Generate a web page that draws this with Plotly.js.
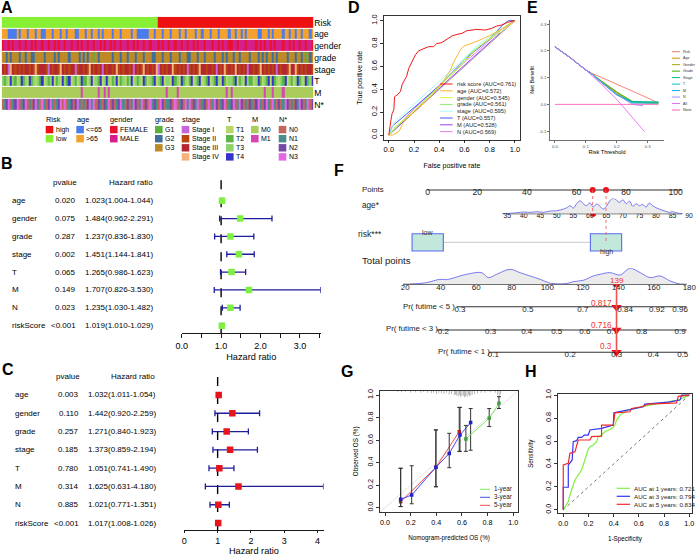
<!DOCTYPE html>
<html><head><meta charset="utf-8">
<script src="https://cdn.plot.ly/plotly-3.0.1.min.js"></script>
<style>html,body{margin:0;padding:0;background:#fff}#chart{width:698px;height:556px}</style>
</head><body><div id="chart"></div>
<script>
// ================= DATA =================
// Panel A: heatmap rows (one char per sample = index into the row's levels)
const heatRowNames = ['Risk','age','gender','grade','stage','T','M','N*'];
const riskRow   = '1111111111 1111111111 1111111111 1111111111 1111111111 1111111111 1111111111 1111100000 0000000000 0000000000 0000000000 0000000000 0000000000 0000000000 0000000000';
const ageRow    = '1110000101 1101110110 0111011101 1011100111 0110110101 1110111011 1101100000 0110111011 1011101101 1110110111 0111011110 1101101011 1110011101 0111101101 1011011101';
const genderRow = '0110101101 1011010110 1101101011 0110110101 1011011010 1101011011 0110101101 1011101011 0110110110 1101011011 1011010110 0110111011 1101010110 1011101101 0110110110';
const gradeRow  = '2212122212 2122112222 1222212122 2212222121 2122021222 2221222122 1222122212 2211222122 2122212221 1222122122 2212221212 2122122221 2221212122 1212222122 2122120212';
const stageRow  = '2120321212 1221213122 2102122132 1212201221 2132121202 1221231212 2120212132 1212302121 2231212120 1212132212 2120212312 1232121202 2121321212 1202122132 2312121221';
const tRow      = '2120321023 1203120213 0212301203 2130210231 1023021302 3201230120 1230212031 0213021302 2031203120 1302130213 0213203102 2130120321 1023102130 3120213021 0231203123';
const mRow      = '0000000000 0000000000 0000000000 0000000010 0000001001 0100000000 0000000000 0000000001 0000100000 0000000000 0000000010 1000000000 0000001000 1000010000 0000000000';
const nRow      = '0123012301 2301023103 1023101230 3012023101 0231302102 1302012310 2013201302 0312103201 1203012031 3021301203 0132012301 2301320102 1023102310 3102013201 0213201302';

const riskLevels=['high','low'];            const riskColors=['#EE1111','#88F034'];
const ageLevels=['&lt;=65','&gt;65'];       const ageColors=['#4A7CEC','#F2A02E'];
const genderLevels=['FEMALE','MALE'];       const genderColors=['#E8122E','#D3208C'];
const gradeLevels=['G1','G2','G3'];         const gradeColors=['#5BAF3C','#3E6E99','#BD8A27'];
const stageLevels=['Stage I','Stage II','Stage III','Stage IV']; const stageColors=['#C466DA','#B8460F','#B52630','#F2B27A'];
const tLevels=['T1','T2','T3','T4'];        const tColors=['#B6D86B','#5CB446','#8ED46B','#3434C8'];
const mLevels=['M0','M1'];                  const mColors=['#A9CC5A','#D645B6'];
const nLevels=['N0','N1','N2','N3'];        const nColors=['#C2675B','#4B8D8B','#7647A6','#E465E8'];

// Panels B / C: Cox regression
const coxVars=['age','gender','grade','stage','T','M','N','riskScore'];
const uniP=['0.020','0.075','0.287','0.002','0.065','0.149','0.023','&lt;0.001'];
const uniHR=[1.023,1.484,1.237,1.451,1.265,1.707,1.235,1.019];
const uniLo=[1.004,0.962,0.836,1.144,0.986,0.826,1.030,1.010];
const uniHi=[1.044,2.291,1.830,1.841,1.623,3.530,1.482,1.029];
const multiP=['0.003','0.110','0.257','0.185','0.780','0.314','0.885','&lt;0.001'];
const multiHR=[1.032,1.442,1.271,1.373,1.051,1.625,1.021,1.017];
const multiLo=[1.011,0.920,0.840,0.859,0.741,0.631,0.771,1.008];
const multiHi=[1.054,2.259,1.923,2.194,1.490,4.180,1.351,1.026];

// Panel D: ROC curves
const rocNames=['risk score','age','gender','grade','stage','T','M','N'];
const rocAUC=['0.761','0.572','0.545','0.561','0.595','0.557','0.528','0.569'];
const rocColors=['#F01818','#F5B82E','#D2F04A','#8CF06A','#A6F8F5','#3C5CF5','#A040F0','#F07CF0'];
const rocRiskX=[0,0.008,0.015,0.026,0.04,0.045,0.066,0.092,0.105,0.124,0.14,0.158,0.184,0.21,0.237,0.263,0.29,0.316,0.355,0.38,0.42,0.46,0.5,0.54,0.58,0.618,0.697,0.763,0.816,0.855,0.895,0.94,1];
const rocRiskY=[0,0.1,0.12,0.19,0.22,0.335,0.35,0.38,0.44,0.48,0.51,0.583,0.64,0.70,0.737,0.749,0.758,0.773,0.773,0.80,0.808,0.837,0.866,0.88,0.889,0.912,0.924,0.918,0.933,0.953,0.962,0.985,1];
const rocAgeX=[0,0.03,0.08,0.12,0.2,0.3,0.4,0.48,0.52,0.57,0.6,0.7,0.8,0.9,1];
const rocAgeY=[0,0,0.03,0.12,0.2,0.3,0.42,0.55,0.65,0.75,0.78,0.82,0.87,0.93,1];
const rocGenderX=[0,0.05,0.2,0.4,0.55,0.7,0.8,0.9,1];
const rocGenderY=[0,0.07,0.21,0.42,0.58,0.76,0.84,0.91,1];
const rocGradeX=[0,0.1,0.3,0.5,0.65,0.8,0.9,1];
const rocGradeY=[0,0.11,0.32,0.54,0.72,0.85,0.93,1];
const rocStageX=[0,0.05,0.1,0.3,0.45,0.55,0.7,0.85,1];
const rocStageY=[0,0.12,0.17,0.37,0.52,0.62,0.78,0.9,1];
const rocTX=[0,0.03,0.2,0.4,0.6,0.8,0.9,0.95,1];
const rocTY=[0,0.08,0.24,0.43,0.66,0.84,0.96,1,1];
const rocMX=[0,0.1,0.5,0.9,1];
const rocMY=[0,0.1,0.51,0.91,1];
const rocNX=[0,0.2,0.5,0.7,0.9,1];
const rocNY=[0,0.23,0.54,0.73,0.93,1];

// Panel E: decision curves
const dcaNames=['Risk','Age','Gender','Grade','Stage','T','M','N','All','None'];
const dcaColors=['#F8766D','#D89000','#A3A500','#39B600','#00BF7D','#00BFC4','#00B0F6','#9590FF','#E76BF3','#FF62BC'];
const dcaX=[0,0.05,0.1,0.115,0.15,0.2,0.25,0.3,0.335];
const dcaRisk=[0.215,0.174,0.128,0.118,0.101,0.076,0.05,0.024,0.006];
const dcaAge=[0.215,0.174,0.128,0.118,0.085,0.042,0.006,0.005,0.005];
const dcaGender=[0.215,0.174,0.128,0.118,0.086,0.045,0.012,0.005,0.005];
const dcaGrade=[0.215,0.174,0.128,0.118,0.088,0.047,0.010,0.007,0.007];
const dcaStage=[0.215,0.174,0.128,0.118,0.084,0.038,0.010,0.008,0.008];
const dcaT=[0.215,0.174,0.128,0.118,0.083,0.035,0.009,0.009,0.009];
const dcaM=[0.215,0.174,0.128,0.118,0.082,0.036,0.005,0.005,0.005];
const dcaNX=[0,0.05,0.1,0.115,0.15,0.2,0.25,0.285];
const dcaN=[0.215,0.174,0.128,0.118,0.083,0.038,0.0,-0.005];
const dcaAllX=[0,0.05,0.1,0.15,0.2,0.25,0.29];
const dcaAll=[0.215,0.174,0.128,0.076,0.019,-0.047,-0.102];
const dcaNoneX=[0,0.335];
const dcaNone=[0,0];

// Panel F: nomogram
const pointsTicks=[0,20,40,60,80,100];
const ageTicks=[35,40,45,50,55,60,65,70,75,80,85,90];
const totalTicks=[20,40,60,80,100,120,140,160,180];
const pr5Labels=['0.3','0.5','0.7','0.84','0.92','0.96'];
const pr5AtTotal=[50.8,89,120,143.8,161.7,174.8];
const pr3Labels=['0.2','0.3','0.4','0.5','0.6','0.7','0.8','0.9'];
const pr3AtTotal=[41.4,68.1,88.4,105.3,121.2,136.6,153.2,174.8];
const pr1Labels=['0.1','0.2','0.3','0.4','0.5'];
const pr1AtTotal=[69.6,112.8,139.1,159.7,176.3];
const ageDensX=[34,36,38,40,42,44,46,48,50,52,53,54,55,56,57,58,59,60,61,62,63,64,65,66,67,68,69,70,71,72,73,74,75,76,77,78,79,80,81,82,83,84,85,86,87,88];
const ageDensY=[0,1,3,5,4,6,4,8,9,14,18,24,17,30,39,30,24,33,20,29,23,14,22,38,46,41,34,42,30,38,22,30,24,28,20,32,24,18,14,10,7,4,6,3,1,0];
const totDensX=[22.6,32,39.5,43.3,50.8,54.6,63,66.8,71.5,79,84.6,90.3,95.9,100.6,104.5,110.9,114.6,120.3,125.9,129.7,135.3,141,146.6,152.3,157.9,163.5,169.2,174.8];
const totDensY=[0,5,15,14,25,30,35,20,30,45,35,25,15,5,1,2,8,12,25,30,35,28,48,35,20,25,10,0];
const riskPointsLow=0, riskPointsHigh=71.9;
const patientAge=61, patientAgePoints=66.5, patientRiskPoints=71.9, patientTotal=139;
const patientProb=['0.817','0.716','0.3'];
const ageLineRange=[33.6,88], totalLineRange=[18.7,178.5];
const pr5LineStart=48.9, pr3LineStart=37.7, pr1LineStart=67.3;

// Panel G: calibration
const calNames=['1-year','3-year','5-year'];
const calColors=['#7CEB5A','#4A4AF0','#F04A4A'];
const cal1X=[0.631,0.813,0.889], cal1Y=[0.61,0.793,0.926], cal1Up=[0.73,0.88,0.985], cal1Lo=[0.50,0.72,0.88];
const cal3X=[0.122,0.208,0.397,0.501,0.585,0.668], cal3Y=[0.074,0.113,0.358,0.482,0.645,0.755];
const cal3Up=[0.35,0.372,0.69,0.66,0.89,0.88], cal3Lo=[0.01,0.035,0.186,0.355,0.50,0.51];
const cal5X=[0.122,0.397,0.579], cal5Y=[0.053,0.358,0.675], cal5Up=[0.35,0.69,0.89], cal5Lo=[0.01,0.186,0.50];
const rugX=[0.10,0.13,0.16,0.2,0.24,0.28,0.3,0.33,0.36,0.38,0.4,0.42,0.44,0.46,0.48,0.5,0.52,0.54,0.55,0.56,0.57,0.58,0.59,0.6,0.61,0.62,0.63,0.64,0.65,0.66,0.67,0.68,0.7,0.72,0.75,0.78,0.82,0.86,0.88,0.89,0.9];
const rugH=[0.01,0.015,0.01,0.02,0.015,0.02,0.01,0.02,0.025,0.02,0.03,0.02,0.025,0.03,0.02,0.035,0.03,0.04,0.035,0.045,0.05,0.04,0.055,0.05,0.045,0.06,0.05,0.055,0.04,0.05,0.045,0.035,0.03,0.025,0.02,0.02,0.015,0.02,0.04,0.06,0.03];

// Panel H: time-dependent ROC
const aucYears=[1,3,5];
const aucVals=['0.721','0.794','0.834'];
const aucColors=['#80F040','#3434F0','#F02828'];
const h1X=[0,0.026,0.04,0.053,0.066,0.079,0.093,0.119,0.146,0.159,0.172,0.185,0.198,0.212,0.238,0.265,0.278,0.304,0.331,0.37,0.397,0.41,0.423,0.45,0.476,0.516,0.569,0.622,0.728,0.833,0.913,1];
const h1Y=[0,0.043,0.072,0.13,0.174,0.217,0.26,0.304,0.348,0.391,0.435,0.493,0.528,0.551,0.565,0.594,0.638,0.652,0.681,0.701,0.719,0.739,0.783,0.826,0.846,0.87,0.884,0.899,0.922,0.942,0.957,1];
const h3X=[0,0,0.04,0.04,0.071,0.079,0.106,0.119,0.145,0.167,0.198,0.212,0.304,0.397,0.402,0.463,0.542,0.635,0.648,0.833,0.926,0.939,1];
const h3Y=[0,0.197,0.197,0.39,0.435,0.594,0.603,0.632,0.632,0.652,0.652,0.696,0.71,0.739,0.846,0.861,0.875,0.899,0.922,0.94,0.957,1,1];
const h5X=[0,0,0.04,0.053,0.093,0.119,0.212,0.225,0.304,0.304,0.397,0.41,0.529,0.542,0.622,0.675,0.899,0.913,1];
const h5Y=[0,0.391,0.406,0.493,0.507,0.609,0.609,0.638,0.643,0.739,0.739,0.846,0.855,0.884,0.899,0.922,0.933,0.99,1];

// ================= BUILD =================
const W=698,H=556;
const px=p=>p/W, py=p=>1-p/H;
const FONT='"Liberation Sans", Arial, sans-serif';
const traces=[], shapes=[], ann=[];
function text(t,x,y,size,o={}){
  ann.push(Object.assign({text:t,x:o.xref?x:px(x),y:o.yref?y:py(y),xref:o.xref||'paper',yref:o.yref||'paper',showarrow:false,
    font:{family:FONT,size:size,color:o.color||'#000'},xanchor:o.xa||'center',yanchor:o.ya||'middle',borderpad:0},o.extra||{}));
}
function mapRange(v0,p0,v1,p1,pa,pb){const k=(v1-v0)/(p1-p0);return [v0+(pa-p0)*k, v0+(pb-p0)*k];}
const L={width:W,height:H,margin:{l:0,r:0,t:0,b:0,pad:0},paper_bgcolor:'#fff',plot_bgcolor:'rgba(0,0,0,0)',
  showlegend:false,font:{family:FONT,color:'#000'},shapes:shapes,annotations:ann,hovermode:false};
const hidden={visible:false,showgrid:false,zeroline:false};
function boxAx(o){return Object.assign({showline:true,mirror:true,linecolor:'#000',linewidth:0.8,ticks:'outside',ticklen:3,
  tickcolor:'#000',tickwidth:0.8,showgrid:false,zeroline:false},o);}

// ---- Panel letters
[['A',7.5,7],['B',7.3,163.3],['C',7.7,369.5],['D',354,7.3],['E',532.5,7.3],['F',339,170],['G',347,371.7],['H',530.5,371.7]]
  .forEach(([t,x,y])=>text('<b>'+t+'</b>',x,y,16));

// ---- Panel A
const heatRows=[riskRow,ageRow,genderRow,gradeRow,stageRow,tRow,mRow,nRow].map(s=>s.replace(/\s/g,''));
const palettes=[riskColors,ageColors,genderColors,gradeColors,stageColors,tColors,mColors,nColors];
const levelSets=[riskLevels,ageLevels,genderLevels,gradeLevels,stageLevels,tLevels,mLevels,nLevels];
const allColors=[], offsets=[];
palettes.forEach(p=>{offsets.push(allColors.length); allColors.push(...p);});
const nCol=allColors.length, cs=[];
allColors.forEach((c,i)=>{cs.push([i/nCol,c]); cs.push([(i+1)/nCol,c]);});
const nSamp=Math.max(...heatRows.map(s=>s.length));
const zA=heatRows.map((s,r)=>s.split('').map(ch=>offsets[r]+Number(ch)));
traces.push({type:'heatmap',z:zA,x:[...Array(nSamp).keys()],y:heatRowNames.map((_,i)=>i),colorscale:cs,zmin:-0.5,zmax:nCol-0.5,
  showscale:false,ygap:1,xaxis:'x',yaxis:'y',hoverinfo:'skip'});
L.xaxis=Object.assign({},hidden,{domain:[px(1.7),px(313.3)],range:[-0.5,nSamp-0.5],anchor:'y'});
L.yaxis={domain:[py(110.5),py(16.85)],range:[heatRowNames.length-0.5,-0.5],anchor:'x',side:'right',showgrid:false,zeroline:false,
  showline:false,ticks:'',tickvals:heatRowNames.map((_,i)=>i),ticktext:heatRowNames,tickfont:{size:8.6,family:FONT}};
const legTitles=['Risk','age','gender','grade','stage','T','M','N*'];
const legTitleX=[45.3,76,109.3,154.3,181,225.7,250.7,278.3];
const legSwX=[45.7,76.3,110,155,181.7,226,251,278.7];
const legItemY=[129.6,138.7,147.8,156.9];
legTitles.forEach((t,g)=>{
  text(t,legTitleX[g],119.5,7.4,{xa:'left'});
  levelSets[g].forEach((lab,k)=>{
    const yc=legItemY[k];
    shapes.push({type:'rect',xref:'paper',yref:'paper',x0:px(legSwX[g]),x1:px(legSwX[g]+7.6),y0:py(yc+3.7),y1:py(yc-3.7),
      fillcolor:palettes[g][k],line:{width:0}});
    text(lab,legSwX[g]+9,yc,7,{xa:'left'});
  });
});

// ---- Panels B and C (forest plots)
function forest(ax,HR,Lo,Hi,P,color,xdom,xr,tv,tt,ydom,yr,cols,tlen,tstand){
  const yi=coxVars.map((_,i)=>i);
  traces.push({type:'scatter',mode:'markers',x:HR,y:yi,xaxis:'x'+ax,yaxis:'y'+ax,hoverinfo:'skip',
    marker:{symbol:'square',size:6.5,color:color},
    error_x:{type:'data',symmetric:false,array:Hi.map((h,i)=>h-HR[i]),arrayminus:HR.map((v,i)=>v-Lo[i]),color:'#1C1C9C',thickness:1.3,width:3}});
  L['xaxis'+ax]={domain:xdom,range:xr,anchor:'y'+ax,showline:true,linecolor:'#000',linewidth:0.9,ticks:'outside',ticklen:tlen,
    tickcolor:'#000',tickwidth:0.9,tickvals:tv,ticktext:tt,tickfont:{size:9},showgrid:false,zeroline:false,
    title:{text:'Hazard ratio',font:{size:9.2},standoff:tstand}};
  L['yaxis'+ax]=Object.assign({},hidden,{domain:ydom,range:yr,anchor:'x'+ax});
  shapes.push({type:'line',xref:'x'+ax,yref:'y'+ax+' domain',x0:1,x1:1,y0:0,y1:1,line:{color:'#000',width:1.4,dash:'dash'},layer:'below'});
  const o={xref:'paper',yref:'y'+ax};
  coxVars.forEach((v,i)=>{
    text(v,px(cols[0]),i,8,Object.assign({xa:'left'},o));
    text(P[i],px(cols[1]),i,8,Object.assign({xa:'right'},o));
    text(HR[i].toFixed(3)+'('+Lo[i].toFixed(3)+'-'+Hi[i].toFixed(3)+')',px(cols[2]),i,8,Object.assign({xa:'right'},o));
  });
  text('pvalue',px(cols[3]),-1,8,o);
  text('Hazard ratio',px(cols[4]),-1,8,o);
}
forest(2,uniHR,uniLo,uniHi,uniP,'#80F040',[px(181.7),px(320.8)],[0,3.53],[0,0.5,1,1.5,2,2.5,3,3.5],
  ['0.0','','1.0','','2.0','','3.0',''],[py(333.3),py(180)],[7.43,-1.16],[10.7,77.3,154,65,130.7],4,3);
forest(3,multiHR,multiLo,multiHi,multiP,'#E8141C',[px(184.3),px(323.6)],[0,4.18],[0,1,2,3,4],
  ['0','1','2','3','4'],[py(530),py(373)],[7.38,-1.2],[14,80,156.7,68,133.3],2,5);

// ---- Panel D
const rocXs=[rocRiskX,rocAgeX,rocGenderX,rocGradeX,rocStageX,rocTX,rocMX,rocNX];
const rocYs=[rocRiskY,rocAgeY,rocGenderY,rocGradeY,rocStageY,rocTY,rocMY,rocNY];
shapes.push({type:'line',xref:'x4',yref:'y4',x0:0,y0:0,x1:1,y1:1,line:{color:'#888',width:0.8},layer:'below'});
for(let i=rocNames.length-1;i>=0;i--){
  traces.push({type:'scatter',mode:'lines',x:rocXs[i],y:rocYs[i],xaxis:'x4',yaxis:'y4',hoverinfo:'skip',line:{color:rocColors[i],width:1}});
}
const tick01=[0,0.2,0.4,0.6,0.8,1], tick01t=['0.0','0.2','0.4','0.6','0.8','1.0'];
L.xaxis4=boxAx({domain:[px(383.8),px(520)],range:[-0.04,1.04],anchor:'y4',tickvals:tick01,ticktext:tick01t,tickfont:{size:7.5},
  title:{text:'False positive rate',font:{size:7},standoff:9}});
L.yaxis4=boxAx({domain:[py(139.6),py(16.1)],range:[-0.04,1.04],anchor:'x4',tickvals:tick01,ticktext:tick01t,tickfont:{size:7.5},tickangle:-90,
  title:{text:'True positive rate',font:{size:7},standoff:6}});
rocNames.forEach((n,i)=>{
  const y=84+i*6.8;
  shapes.push({type:'line',xref:'paper',yref:'paper',x0:px(440),x1:px(452.7),y0:py(y),y1:py(y),line:{color:rocColors[i],width:1}});
  text(n+' (AUC='+rocAUC[i]+')',455.7,y,5.7,{xa:'left',color:'#222'});
});

// ---- Panel E
const dcaXs=[dcaX,dcaX,dcaX,dcaX,dcaX,dcaX,dcaX,dcaNX,dcaAllX,dcaNoneX];
const dcaYs=[dcaRisk,dcaAge,dcaGender,dcaGrade,dcaStage,dcaT,dcaM,dcaN,dcaAll,dcaNone];
dcaNames.forEach((n,i)=>{
  traces.push({type:'scatter',mode:'lines',x:dcaXs[i],y:dcaYs[i],xaxis:'x5',yaxis:'y5',hoverinfo:'skip',line:{color:dcaColors[i],width:0.9}});
  const y=51.7+i*6.48;
  shapes.push({type:'line',xref:'paper',yref:'paper',x0:px(672),x1:px(680),y0:py(y),y1:py(y),line:{color:dcaColors[i],width:1}});
  text(n,681.7,y,3.6,{xa:'left',color:'#333'});
});
const eAx={showline:true,linecolor:'#333',linewidth:0.7,ticks:'outside',ticklen:2,tickcolor:'#333',tickwidth:0.7,showgrid:false,zeroline:false,
  tickfont:{size:4.3,color:'#4D4D4D'}};
L.xaxis5=Object.assign({},eAx,{domain:[px(550),px(664)],range:[-0.016,0.353],anchor:'y5',tickvals:[0,0.1,0.2,0.3],ticktext:['0.0','0.1','0.2','0.3'],
  title:{text:'Risk Threshold',font:{size:5.6},standoff:1}});
L.yaxis5=Object.assign({},eAx,{domain:[py(140),py(20)],range:[-0.133,0.315],anchor:'x5',tickvals:[-0.1,0,0.1,0.2,0.3],
  ticktext:['-0.1','0.0','0.1','0.2','0.3'],title:{text:'Net Benefit',font:{size:5.6},standoff:3}});

// ---- Panel F (nomogram)
const fFree=(dom,rng,tv,tt,labY,fs)=>({domain:[px(dom[0]),px(dom[1])],range:rng,anchor:'free',position:py(labY-fs*0.5-2.5),
  showline:false,ticks:'',showgrid:false,zeroline:false,tickvals:tv,ticktext:tt,tickfont:{size:fs,color:'#222'}});
const totDom=[398,697], totRng=mapRange(20,405.3,180,689.3,398,697);
const ptsDom=[410,692], ptsRng=mapRange(0,427.7,100,675.7,410,692);
const ageDom=[495,697], ageRng=mapRange(35,507.3,90,689,495,697);
L.xaxis6=fFree(ptsDom,ptsRng,pointsTicks,pointsTicks.map(String),192,8.6);
L.xaxis7=fFree(ageDom,ageRng,ageTicks,ageTicks.map(String),216.5,6.9);
L.xaxis8=fFree(totDom,totRng,totalTicks,totalTicks.map(String),287.3,8);
L.xaxis9=fFree(totDom,totRng,pr5AtTotal,pr5Labels,309.3,8);
L.xaxis10=fFree(totDom,totRng,pr3AtTotal,pr3Labels,331.7,8);
L.xaxis11=fFree(totDom,totRng,pr1AtTotal,pr1Labels,354.3,8);
L.yaxis6=Object.assign({},hidden,{domain:[0,1],range:[H,0],anchor:'free',position:0});
L.yaxis7=Object.assign({},hidden,{domain:[py(213.7),py(198.4)],range:[0,46],anchor:'free',position:0});
L.yaxis8=Object.assign({},hidden,{domain:[py(284.3),py(268.3)],range:[0,48],anchor:'free',position:0});
const axLine=(xr,a,b,y)=>shapes.push({type:'line',xref:xr,yref:'paper',x0:a,x1:b,y0:py(y),y1:py(y),line:{color:'#333',width:1.1},layer:'below'});
axLine('x6',0,102.4,190);
axLine('x7',ageLineRange[0],ageLineRange[1],213.7);
axLine('x8',totalLineRange[0],totalLineRange[1],284.3);
axLine('x9',pr5LineStart,totalLineRange[1],306.7);
axLine('x10',pr3LineStart,totalLineRange[1],330);
axLine('x11',pr1LineStart,totalLineRange[1],352.3);
traces.push({type:'scatter',mode:'lines',x:ageDensX,y:ageDensY,xaxis:'x7',yaxis:'y7',fill:'tozeroy',fillcolor:'#EBEBEB',
  line:{color:'#5A5AF0',width:0.8,shape:'spline'},hoverinfo:'skip'});
traces.push({type:'scatter',mode:'lines',x:totDensX,y:totDensY,xaxis:'x8',yaxis:'y8',fill:'tozeroy',fillcolor:'#EBEBEB',
  line:{color:'#5A5AF0',width:0.8,shape:'spline'},hoverinfo:'skip'});
// risk boxes
const boxHalf=6.3;
shapes.push({type:'line',xref:'x6',yref:'paper',x0:riskPointsLow+boxHalf,x1:riskPointsHigh-boxHalf,y0:py(242.3),y1:py(242.3),line:{color:'#C8C8C8',width:1}});
[riskPointsLow,riskPointsHigh].forEach(v=>shapes.push({type:'rect',xref:'x6',yref:'paper',x0:v-boxHalf,x1:v+boxHalf,y0:py(251),y1:py(233.7),
  fillcolor:'#C2E8DC',line:{color:'#5A6AF0',width:1.1}}));
// patient guides
shapes.push({type:'line',xref:'x6',yref:'paper',x0:patientAgePoints,x1:patientAgePoints,y0:py(190),y1:py(213.7),line:{color:'#F06060',width:0.9,dash:'dot'}});
shapes.push({type:'line',xref:'x6',yref:'paper',x0:patientRiskPoints,x1:patientRiskPoints,y0:py(190),y1:py(242.5),line:{color:'#F06060',width:0.9,dash:'dot'}});
shapes.push({type:'line',xref:'x8',yref:'paper',x0:patientTotal,x1:patientTotal,y0:py(284.3),y1:py(352),line:{color:'#F05050',width:1.6}});
const red='#E8141C';
traces.push({type:'scatter',mode:'markers',x:[patientAgePoints,patientRiskPoints],y:[190,190],xaxis:'x6',yaxis:'y6',marker:{color:red,size:6},hoverinfo:'skip'});
traces.push({type:'scatter',mode:'markers',x:[patientAge],y:[213.7],xaxis:'x7',yaxis:'y6',marker:{color:red,size:6},hoverinfo:'skip'});
traces.push({type:'scatter',mode:'markers',x:[riskPointsHigh],y:[242.5],xaxis:'x6',yaxis:'y6',marker:{color:red,size:6},hoverinfo:'skip'});
traces.push({type:'scatter',mode:'markers',x:[riskPointsLow],y:[242.3],xaxis:'x6',yaxis:'y6',marker:{color:'#333',size:2},hoverinfo:'skip'});
traces.push({type:'scatter',mode:'markers',x:[patientTotal],y:[284.3],xaxis:'x8',yaxis:'y6',marker:{color:red,size:6},hoverinfo:'skip'});
traces.push({type:'scatter',mode:'markers',x:[patientTotal,patientTotal,patientTotal],y:[307.3,330,352.3],xaxis:'x8',yaxis:'y6',
  marker:{color:red,size:9,symbol:'triangle-down'},hoverinfo:'skip'});
text('low',riskPointsLow,232.3,7,{xref:'x6',color:'#333'});
text('high',riskPointsHigh,252.5,7,{xref:'x6',color:'#333'});
text(String(patientTotal),patientTotal,280,8,{xref:'x8',color:'#F03030'});
[303.3,325,346.7].forEach((y,i)=>text(patientProb[i],patientTotal,y,8.2,{xref:'x8',xa:'right',color:'#F03030',extra:{xshift:-4}}));
text('Points',361,189.3,7.8,{xa:'left',color:'#222'});
text('age*',361,206,8.2,{xa:'left',color:'#222'});
text('risk***',356.7,234.3,8.6,{xa:'left',color:'#222'});
text('Total points',361,260,9.6,{xa:'left',color:'#222'});
text('Pr( futime &lt; 5 )',456,306,7.8,{xa:'right',color:'#222'});
text('Pr( futime &lt; 3 )',438.5,328,7.8,{xa:'right',color:'#222'});
text('Pr( futime &lt; 1 )',491,351.3,7.8,{xa:'right',color:'#222'});

// ---- Panel G (calibration)
shapes.push({type:'line',xref:'x12',yref:'y12',x0:-0.04,y0:-0.04,x1:1.04,y1:1.04,line:{color:'#DDDDDD',width:0.8},layer:'below'});
traces.push({type:'bar',x:rugX,y:rugH.map(h=>-h),base:1.04,width:0.004,xaxis:'x12',yaxis:'y12',marker:{color:'#777',line:{width:0}},hoverinfo:'skip'});
const calXs=[cal1X,cal3X,cal5X], calYs=[cal1Y,cal3Y,cal5Y], calUp=[cal1Up,cal3Up,cal5Up], calLo=[cal1Lo,cal3Lo,cal5Lo];
[2,1,0].forEach(i=>{
  traces.push({type:'scatter',mode:'lines+markers',x:calXs[i],y:calYs[i],xaxis:'x12',yaxis:'y12',hoverinfo:'skip',
    line:{color:calColors[i],width:1},marker:{symbol:'square',size:3.5,color:['#3CA03C','#2020D0','#D02020'][i]},
    error_y:{type:'data',symmetric:false,array:calUp[i].map((u,k)=>u-calYs[i][k]),arrayminus:calYs[i].map((v,k)=>v-calLo[i][k]),
      color:'#333',thickness:1,width:2}});
});
L.xaxis12=boxAx({domain:[px(379.9),px(518.3)],range:[-0.04,1.04],anchor:'y12',tickvals:tick01,ticktext:tick01t,tickfont:{size:7.2},
  title:{text:'Nomogram-predicted OS (%)',font:{size:6.3},standoff:9}});
L.yaxis12=boxAx({domain:[py(512.2),py(390.5)],range:[-0.04,1.04],anchor:'x12',tickvals:tick01,ticktext:tick01t,tickfont:{size:7.2},tickangle:-90,
  title:{text:'Observed OS (%)',font:{size:6.3},standoff:6}});
calNames.forEach((n,i)=>{
  const y=489.3+i*8;
  shapes.push({type:'line',xref:'paper',yref:'paper',x0:px(480),x1:px(490),y0:py(y),y1:py(y),line:{color:calColors[i],width:1}});
  text(n,493.3,y,6.3,{xa:'left',color:'#222'});
});

// ---- Panel H
shapes.push({type:'line',xref:'x13',yref:'y13',x0:0,y0:0,x1:1,y1:1,line:{color:'#555',width:0.8,dash:'dot'},layer:'below'});
const hXs=[h1X,h3X,h5X], hYs=[h1Y,h3Y,h5Y];
hXs.forEach((xs,i)=>traces.push({type:'scatter',mode:'lines',x:xs,y:hYs[i],xaxis:'x13',yaxis:'y13',hoverinfo:'skip',line:{color:aucColors[i],width:1.2}}));
L.xaxis13=boxAx({domain:[px(557.7),px(692.3)],range:[-0.044,1.024],anchor:'y13',tickvals:tick01,ticktext:tick01t,tickfont:{size:7.2},
  title:{text:'1-Specificity',font:{size:6.3},standoff:9}});
L.yaxis13=boxAx({domain:[py(513.3),py(394)],range:[-0.03,1.01],anchor:'x13',tickvals:tick01,ticktext:tick01t,tickfont:{size:7.2},tickangle:-90,
  title:{text:'Sensitivity',font:{size:6.3},standoff:9}});
aucYears.forEach((yv,i)=>{
  const y=488.3+i*8;
  shapes.push({type:'line',xref:'paper',yref:'paper',x0:px(616.7),x1:px(630),y0:py(y),y1:py(y),line:{color:aucColors[i],width:1.2}});
  text('AUC at '+yv+' years: '+aucVals[i],633.3,y,6.2,{xa:'left',color:'#222'});
});

Plotly.newPlot('chart',traces,L,{staticPlot:true,displayModeBar:false});
</script></body></html>
